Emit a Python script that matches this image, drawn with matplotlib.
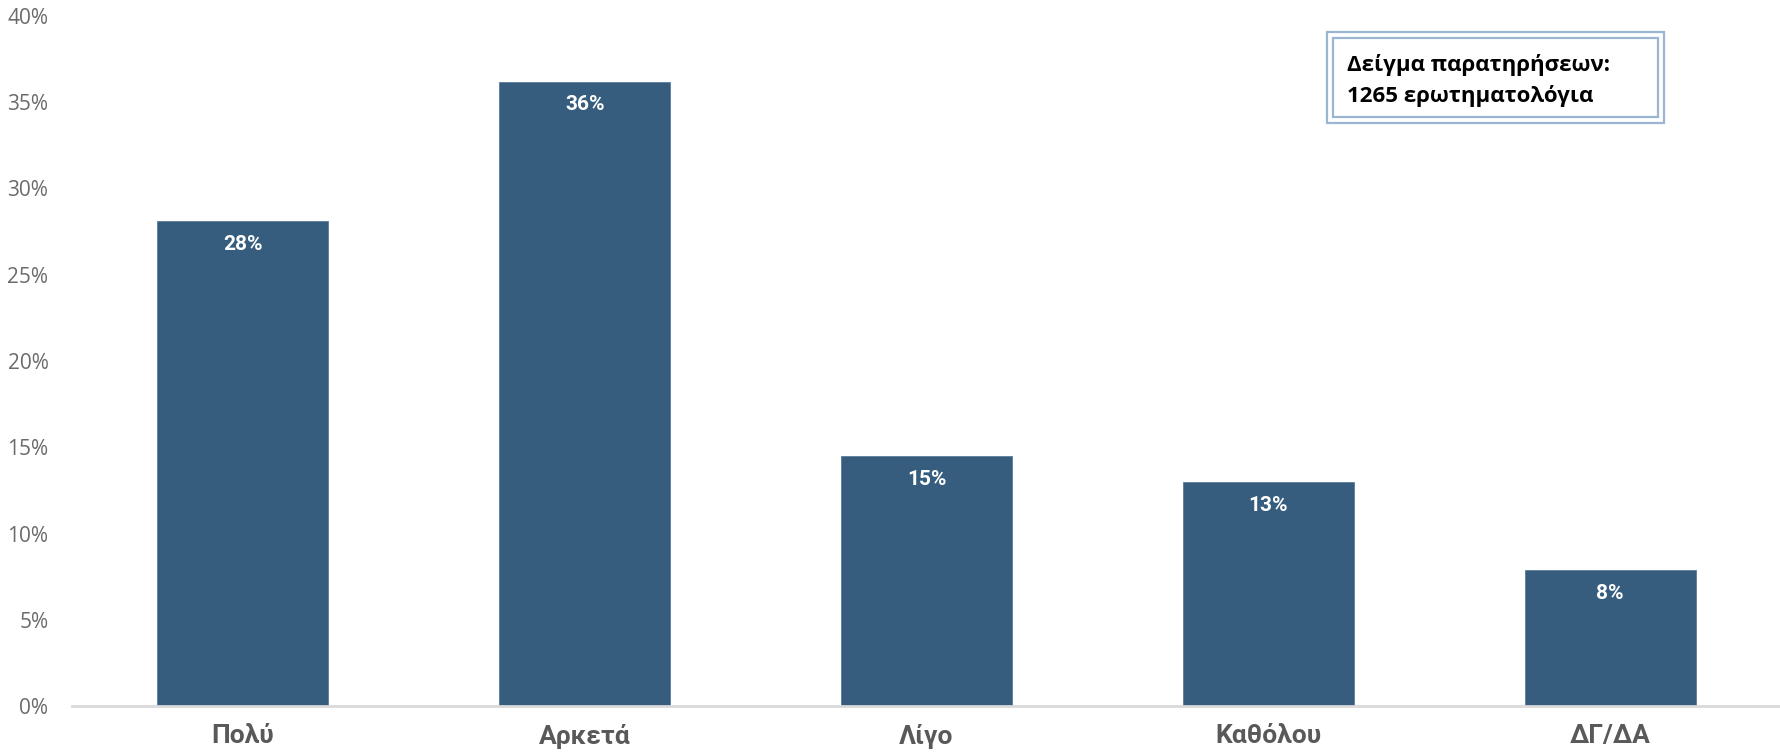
# Δείγμα 1265 ερωτηματολόγια - ραβδόγραμμα ποσοστών

import matplotlib.pyplot as plt
from matplotlib.patches import Rectangle
from matplotlib.ticker import PercentFormatter

# Δεδομένα
categories = ["Πολύ", "Αρκετά", "Λίγο", "Καθόλου", "ΔΓ/ΔΑ"]
values = [0.281, 0.362, 0.145, 0.130, 0.079]
value_labels = ["28%", "36%", "15%", "13%", "8%"]
y_ticks = [0, 0.05, 0.10, 0.15, 0.20, 0.25, 0.30, 0.35, 0.40]
note_lines = ["Δείγμα παρατηρήσεων:", "1265 ερωτηματολόγια"]

bar_color = "#365d7e"
grey = "#595959"

W, H = 1781, 756
fig = plt.figure(figsize=(W / 100, H / 100), dpi=100)
ax = fig.add_axes([72 / W, 50 / H, 1 - 72 / W, (706 - 16) / H])

x = range(len(categories))
bars = ax.bar(x, values, width=0.5, color=bar_color, edgecolor="#5a7d9a", linewidth=0.6, zorder=2)

ax.set_xlim(-0.5, len(categories) - 0.5)
ax.set_ylim(0, 0.40)
ax.set_yticks(y_ticks)
ax.yaxis.set_major_formatter(PercentFormatter(1.0, decimals=0))
ax.set_xticks(list(x))
ax.set_xticklabels(categories, fontsize=19, fontweight="bold", color=grey, family=["Roboto", "DejaVu Sans"])
ax.tick_params(axis="x", length=0, pad=13)
ax.tick_params(axis="y", length=0, pad=17, labelsize=15, labelcolor="#6b6b6b")
for lab in ax.get_yticklabels():
    lab.set_family(["Open Sans", "DejaVu Sans"])

for s in ["top", "right", "left"]:
    ax.spines[s].set_visible(False)
ax.spines["bottom"].set_color("#d9d9d9")
ax.spines["bottom"].set_linewidth(2)

# Ετικέτες τιμών μέσα στις μπάρες
for b, lab in zip(bars, value_labels):
    ax.annotate(lab, (b.get_x() + b.get_width() / 2, b.get_height()),
                xytext=(0, -10), textcoords="offset points", ha="center", va="top",
                color="white", fontsize=15, fontweight="bold", family=["Roboto", "DejaVu Sans"])

# Πλαίσιο δείγματος (διπλό περίγραμμα)
border = "#9ab6d3"
for x0, y0, x1, y1 in [(1327, 32, 1664, 123), (1333, 38, 1658, 117)]:
    fig.patches.append(Rectangle((x0 / W, 1 - y1 / H), (x1 - x0) / W, (y1 - y0) / H,
                                 transform=fig.transFigure, fill=False,
                                 edgecolor=border, linewidth=1.6))
fig.text(1347 / W, 1 - 65 / H, note_lines[0], ha="left", va="center", fontsize=16,
         fontweight="bold", color="black", family=["Open Sans", "DejaVu Sans"])
fig.text(1347 / W, 1 - 96 / H, note_lines[1], ha="left", va="center", fontsize=16,
         fontweight="bold", color="black", family=["Open Sans", "DejaVu Sans"])

fig.savefig("out.png", dpi=100)
